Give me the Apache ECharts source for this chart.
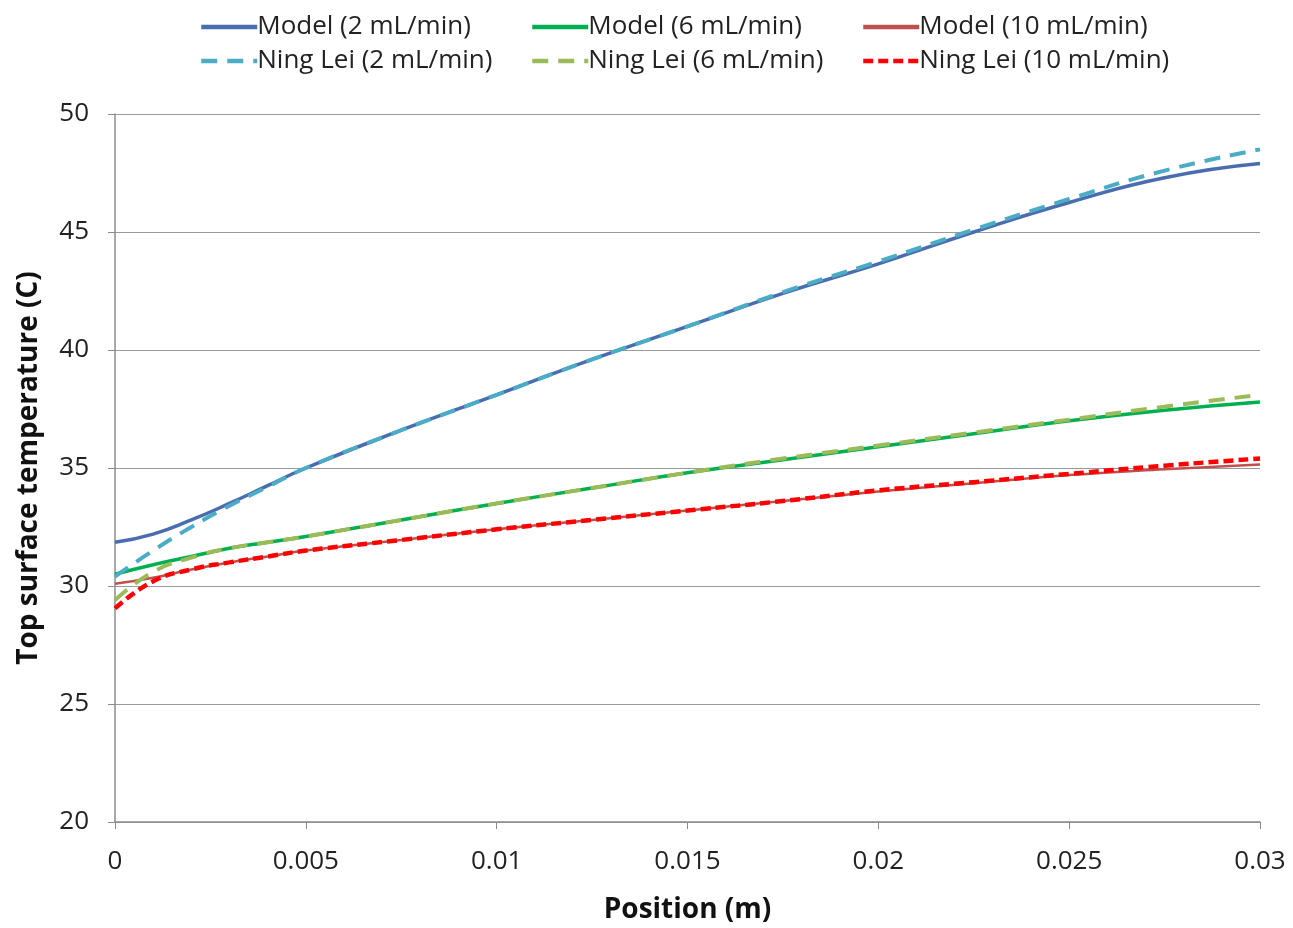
<!DOCTYPE html>
<html>
<head>
<meta charset="utf-8">
<script src="https://cdn.jsdelivr.net/npm/echarts@6/dist/echarts.min.js"></script>
<style>html,body{margin:0;padding:0;background:#fff}#c{width:1293px;height:928px}</style>
</head>
<body>
<div id="c"></div>
<script>
const positions = [0, 0.001, 0.002, 0.003, 0.004, 0.005, 0.0075, 0.01, 0.0125, 0.015, 0.0175, 0.02, 0.0225, 0.025, 0.0275, 0.03];
const model2  = [31.85, 32.2, 32.8, 33.5, 34.25, 35.0, 36.6, 38.1, 39.6, 41.0, 42.4, 43.65, 45.0, 46.25, 47.3, 47.9];
const ning2   = [30.4, 31.5, 32.5, 33.4, 34.2, 35.0, 36.6, 38.1, 39.6, 41.0, 42.45, 43.75, 45.1, 46.4, 47.6, 48.5];
const model6  = [30.5, 30.9, 31.25, 31.6, 31.85, 32.1, 32.8, 33.5, 34.15, 34.8, 35.35, 35.9, 36.45, 37.0, 37.45, 37.8];
const ning6   = [29.4, 30.6, 31.2, 31.6, 31.85, 32.1, 32.8, 33.5, 34.15, 34.8, 35.4, 35.95, 36.5, 37.05, 37.6, 38.1];
const model10 = [30.1, 30.35, 30.7, 31.0, 31.25, 31.5, 31.95, 32.4, 32.8, 33.2, 33.6, 34.0, 34.35, 34.7, 34.95, 35.15];
const ning10  = [29.05, 30.2, 30.7, 31.0, 31.25, 31.5, 31.95, 32.4, 32.8, 33.2, 33.6, 34.05, 34.4, 34.75, 35.1, 35.4];
const names = ['Model (2 mL/min)', 'Ning Lei (2 mL/min)', 'Model (6 mL/min)', 'Ning Lei (6 mL/min)', 'Model (10 mL/min)', 'Ning Lei (10 mL/min)'];
const yTicks = [20, 25, 30, 35, 40, 45, 50];
const xTicks = [0, 0.005, 0.01, 0.015, 0.02, 0.025, 0.03];

const pair = (ys) => positions.map((x, i) => [x, ys[i]]);
const FONT = '"Open Sans", "Liberation Sans", sans-serif';
const styles = [
  {c: '#4A6DB0', t: 'solid', w: 3.5},
  {c: '#4BACC6', t: [16, 10], w: 4},
  {c: '#00B050', t: 'solid', w: 3.5},
  {c: '#9BBB59', t: [16, 10], w: 4},
  {c: '#C0504D', t: 'solid', w: 2.5},
  {c: '#FF0000', t: [10, 5], w: 4.5}
];
const datas = [model2, ning2, model6, ning6, model10, ning10];
const order = [4, 0, 2, 5, 1, 3];
const series = order.map(i => ({
  name: names[i], type: 'line', smooth: true, showSymbol: false, symbol: 'none',
  data: pair(datas[i]),
  lineStyle: {color: styles[i].c, type: styles[i].t, width: styles[i].w},
  itemStyle: {color: styles[i].c},
  z: 2 + (i % 2)
}));
const legendBase = {
  orient: 'vertical', top: 9, itemGap: 8, itemWidth: 56, itemHeight: 14,
  textStyle: {fontFamily: FONT, fontSize: 26, color: '#222', padding: [0, 0, 0, -5]},
  itemStyle: {opacity: 0},
  lineStyle: {width: 4.5}
};
const chart = echarts.init(document.getElementById('c'), null, {renderer: 'canvas'});
chart.setOption({
  animation: false,
  backgroundColor: '#fff',
  legend: [
    Object.assign({}, legendBase, {left: 194, data: [names[0], names[1]]}),
    Object.assign({}, legendBase, {left: 525, data: [names[2], names[3]]}),
    Object.assign({}, legendBase, {left: 856, data: [names[4], names[5]]})
  ],
  grid: {left: 115, right: 33, top: 114, bottom: 106, containLabel: false, outerBoundsMode: 'none'},
  xAxis: {
    type: 'value', min: xTicks[0], max: xTicks[xTicks.length - 1], interval: 0.005,
    name: 'Position (m)', nameLocation: 'middle', nameGap: 74,
    nameTextStyle: {fontFamily: FONT, fontSize: 28, fontWeight: 'bold', color: '#111'},
    axisLine: {show: true, lineStyle: {color: '#8c8c8c', width: 1.5}},
    axisTick: {show: true, length: 7, lineStyle: {color: '#8c8c8c'}},
    axisLabel: {fontFamily: FONT, fontSize: 26, color: '#222', margin: 27, formatter: v => String(+v.toFixed(3))},
    splitLine: {show: false}
  },
  yAxis: {
    type: 'value', min: yTicks[0], max: yTicks[yTicks.length - 1], interval: 5,
    name: 'Top surface temperature (C)', nameLocation: 'middle', nameGap: 72, nameRotate: 90,
    nameTextStyle: {fontFamily: FONT, fontSize: 28, fontWeight: 'bold', color: '#111'},
    axisLine: {show: true, lineStyle: {color: '#8c8c8c', width: 1.5}},
    axisTick: {show: true, length: 7, lineStyle: {color: '#8c8c8c'}},
    axisLabel: {fontFamily: FONT, fontSize: 26, color: '#222', margin: 26},
    splitLine: {show: true, lineStyle: {color: '#9a9a9a', width: 1.2}}
  },
  series: series
});
</script>
</body>
</html>
